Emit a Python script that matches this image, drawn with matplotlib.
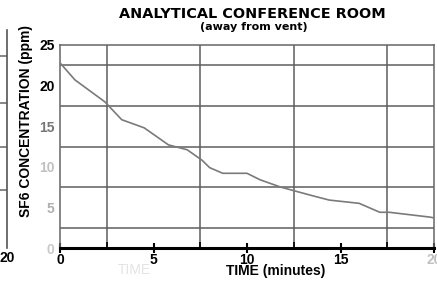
import matplotlib.pyplot as plt

plt.rcParams['font.family'] = ['Liberation Sans', 'DejaVu Sans']

# DATOS – curva
tiempo = [0, 0.8, 2.4, 3.3, 4.5, 5.8, 6.8, 7.6, 8.0, 8.7, 10.0, 10.7,
          11.8, 13.4, 14.4, 16.0, 17.1, 17.6, 19.8, 20.0]
concentracion = [22.8, 20.7, 18.0, 15.8, 14.8, 12.7, 12.1, 10.8, 9.9, 9.2, 9.2, 8.4,
                 7.5, 6.5, 5.9, 5.5, 4.4, 4.4, 3.8, 3.7]
x_ticks = [0, 5, 10, 15, 20]
y_ticks = [0, 5, 10, 15, 20, 25]
y_tick_colores = ['#c8c8c8', '#b0b0b0', '#c0c0c0', '#777777', 'black', 'black']
x_tick_colores = ['black', 'black', 'black', 'black', '#c0c0c0']

W, H = 437, 289
fig = plt.figure(figsize=(W / 100, H / 100), dpi=100)

# fragmento del gráfico vecino (borde izquierdo)
ax0 = fig.add_axes([-0.2, (289 - 248) / H, 0.2 + 7 / W, (248 - 30) / H])
ax0.set_xlim(0, 20)
ax0.set_ylim(0, 27)
for s in ['top', 'left', 'bottom']:
    ax0.spines[s].set_visible(False)
ax0.spines['right'].set_color('#555555')
ax0.spines['right'].set_linewidth(1.2)
for yv in [23.8, 18.0, 12.5, 7.2]:
    ax0.axhline(yv, color='#666666', lw=1.1)
ax0.set_yticks([])
ax0.set_xticks([20])
ax0.set_xticklabels(['20'], fontsize=10, fontweight='bold')
ax0.tick_params(axis='x', length=0, pad=2)

# gráfico principal
ax = fig.add_axes([60 / W, (289 - 248) / H, 374 / W, (248 - 45) / H])
ax.plot(tiempo, concentracion, color='#7a7a7a', lw=1.2, zorder=3)
ax.set_xlim(0, 20)
ax.set_ylim(0, 25)

ax.set_xticks([2.5, 7.5, 12.5, 17.5], minor=True)
ax.set_yticks([2.5, 7.5, 12.5, 17.5, 22.5], minor=True)
ax.grid(which='minor', color='#5e5e5e', lw=1.1)
ax.set_xticks(x_ticks)
ax.set_yticks(y_ticks)
ax.set_xticklabels([str(v) for v in x_ticks], fontsize=10, fontweight='bold')
ax.set_yticklabels([str(v) for v in y_ticks], fontsize=10, fontweight='bold')
for lbl, c in zip(ax.get_yticklabels(), y_tick_colores):
    lbl.set_color(c)
for lbl, c in zip(ax.get_xticklabels(), x_tick_colores):
    lbl.set_color(c)

ax.tick_params(axis='y', which='both', length=0, pad=4)
ax.tick_params(axis='x', which='major', direction='inout', length=7, width=1.5, pad=0)
ax.tick_params(axis='x', which='minor', direction='in', length=4, width=1.2)

for s in ['top', 'left', 'right']:
    ax.spines[s].set_color('#666666')
    ax.spines[s].set_linewidth(1.1)
ax.spines['bottom'].set_color('black')
ax.spines['bottom'].set_linewidth(2.2)

ax.set_xlabel('TIME (minutes)', fontsize=10, fontweight='bold')
ax.xaxis.set_label_coords(0.578, -0.08)
ax.set_ylabel('SF6 CONCENTRATION (ppm)', fontsize=10, fontweight='bold')
ax.yaxis.set_label_coords(-0.072, 0.625)

# texto fantasma del escaneo
ax.text(0.2, -0.11, 'TIME', transform=ax.transAxes, fontsize=10, color='#e4e4e4',
        ha='center', va='center')

fig.text(252 / W, 1 - 14 / H, 'ANALYTICAL CONFERENCE ROOM', ha='center', va='center',
         fontsize=10.4, fontweight='bold', family='DejaVu Sans')
fig.text(254 / W, 1 - 27 / H, '(away from vent)', ha='center', va='center',
         fontsize=8, fontweight='bold', family='DejaVu Sans')

fig.savefig('out.png', dpi=100)
